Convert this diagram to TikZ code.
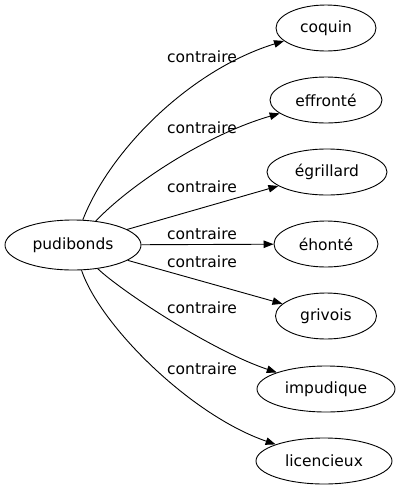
\documentclass[tikz,border=0pt]{standalone}
\usepackage{fontspec}
\setmainfont{DejaVu Sans}
\usetikzlibrary{shapes.geometric,arrows.meta}
\begin{document}
\begin{tikzpicture}[x=1pt,y=-1pt,
  every node/.style={font=\fontsize{15.5}{18}\selectfont},
  term/.style={draw,ellipse,line width=0.9pt,inner sep=0pt,minimum height=46pt},
  lab/.style={inner sep=0pt},
  rel/.style={line width=0.9pt,-{Triangle[length=10pt,width=7.5pt]}}]
\useasboundingbox (0,0) rectangle (401,491);
\node[term,minimum width=136pt,minimum height=50pt] (pud) at (73,245) {pudibonds};
\node[term,minimum width=100pt] (coq) at (326,28) {coquin};
\node[term,minimum width=112pt] (eff) at (326,100) {effronté};
\node[term,minimum width=120pt] (egr) at (327,172) {égrillard};
\node[term,minimum width=104pt] (eho) at (326,244) {éhonté};
\node[term,minimum width=101pt] (gri) at (326,316) {grivois};
\node[term,minimum width=138pt] (imp) at (326,389) {impudique};
\node[term,minimum width=136pt] (lic) at (324,461) {licencieux};
\node[lab] (l1) at (202,57) {contraire};
\node[lab] (l2) at (202,128) {contraire};
\node[lab] (l3) at (202,187) {contraire};
\node[lab] (l4) at (202,234) {contraire};
\node[lab] (l5) at (202,262) {contraire};
\node[lab] (l6) at (202,308) {contraire};
\node[lab] (l7) at (202,369) {contraire};
\draw[rel] (pud) .. controls (110,150) and (190,70) .. (coq);
\draw[rel] (pud) .. controls (130,185) and (205,135) .. (eff);
\draw[rel] (pud) -- (egr);
\draw[rel] (pud) -- (eho);
\draw[rel] (pud) -- (gri);
\draw[rel] (pud) .. controls (120,290) and (210,350) .. (imp);
\draw[rel] (pud) .. controls (100,325) and (190,415) .. (lic);
\end{tikzpicture}
\end{document}
